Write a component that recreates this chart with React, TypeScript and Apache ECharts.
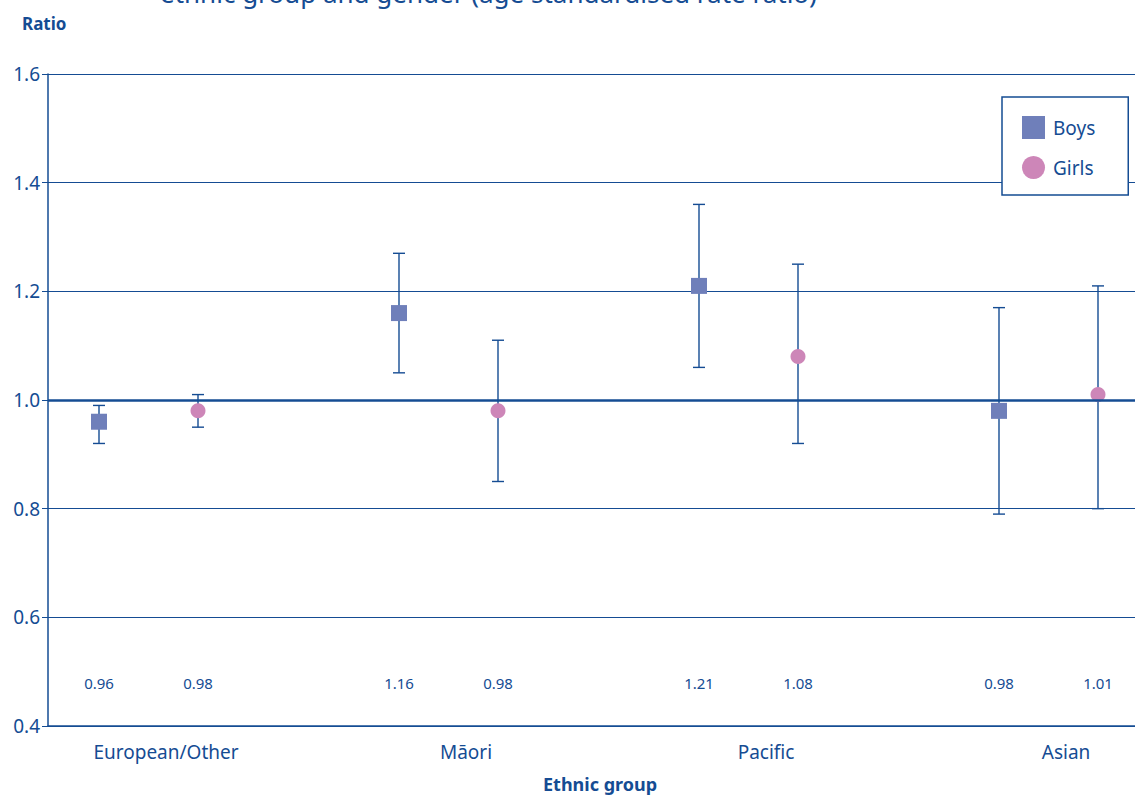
import React, { useEffect, useRef } from "react";
import * as echarts from "echarts";

const categories = ["European/Other", "Māori", "Pacific", "Asian"];
const boysRatio = [0.96, 1.16, 1.21, 0.98];
const boysLower = [0.92, 1.05, 1.06, 0.79];
const boysUpper = [0.99, 1.27, 1.36, 1.17];
const girlsRatio = [0.98, 0.98, 1.08, 1.01];
const girlsLower = [0.95, 0.85, 0.92, 0.8];
const girlsUpper = [1.01, 1.11, 1.25, 1.21];
const yTicks = [0.4, 0.6, 0.8, 1.0, 1.2, 1.4, 1.6];

const BLUE = "#154c93";
const BOYS = "#6f7fba";
const GIRLS = "#cd86b8";
const FONT = "Noto Sans";

// layout in axis units (each group spans 3 units)
const GROUP_W = 3;
const BOY_OFF = 0.51;
const GIRL_OFF = 1.5;
const LABEL_OFF = 1.18;
const VALUE_LABEL_Y = 0.48;

export default function App() {
  const ref = useRef<HTMLDivElement>(null);
  useEffect(() => {
    const chart = echarts.init(ref.current!, null, { renderer: "svg" });
    const bx = (i: number) => i * GROUP_W + BOY_OFF;
    const gx = (i: number) => i * GROUP_W + GIRL_OFF;
    const errData = [
      ...categories.map((_, i) => [bx(i), boysLower[i], boysUpper[i]]),
      ...categories.map((_, i) => [gx(i), girlsLower[i], girlsUpper[i]]),
    ];
    const valueLabels = [
      ...categories.map((_, i) => [bx(i), VALUE_LABEL_Y, boysRatio[i]]),
      ...categories.map((_, i) => [gx(i), VALUE_LABEL_Y, girlsRatio[i]]),
    ];
    chart.setOption({
      animation: false,
      grid: { left: 48, right: 0, top: 74, bottom: 71 },
      xAxis: {
        type: "value",
        min: 0,
        max: 10.87,
        axisLine: { show: true, lineStyle: { color: BLUE, width: 1.5 } },
        axisTick: { show: false },
        axisLabel: { show: false },
        splitLine: { show: false },
      },
      yAxis: {
        type: "value",
        min: yTicks[0],
        max: yTicks[yTicks.length - 1],
        interval: 0.2,
        axisLine: { show: true, lineStyle: { color: BLUE, width: 1.5 } },
        axisTick: { show: true, length: 6, lineStyle: { color: BLUE } },
        axisLabel: {
          color: BLUE,
          fontFamily: FONT,
          fontSize: 19,
          margin: 8,
          formatter: (v: number) => v.toFixed(1),
        },
        splitLine: { show: true, lineStyle: { color: BLUE, width: 1 } },
      },
      legend: {
        orient: "vertical",
        left: 1002,
        top: 97,
        padding: [19, 33, 16, 20],
        itemWidth: 23,
        itemHeight: 23,
        itemGap: 17,
        borderColor: BLUE,
        borderWidth: 1.5,
        backgroundColor: "#fff",
        textStyle: { color: BLUE, fontFamily: FONT, fontSize: 19, padding: [3, 0, 0, 3] },
        data: [
          { name: "Boys", icon: "rect" },
          { name: "Girls", icon: "circle" },
        ],
      },
      graphic: [
        {
          type: "text",
          left: 160,
          top: -20,
          style: {
            text: "ethnic group and gender (age standardised rate ratio)",
            fill: BLUE,
            font: `26px "${FONT}"`,
          },
        },
        {
          type: "text",
          left: 22,
          top: 15,
          style: { text: "Ratio", fill: BLUE, font: `bold 17px "${FONT}"` },
        },
        {
          type: "text",
          left: 543,
          top: 775,
          style: { text: "Ethnic group", fill: BLUE, font: `bold 18px "${FONT}"` },
        },
      ],
      series: [
        {
          name: "CI",
          type: "custom",
          z: 2,
          data: errData,
          renderItem: (params: any, api: any) => {
            const x = api.value(0);
            const lo = api.coord([x, api.value(1)]);
            const hi = api.coord([x, api.value(2)]);
            const hw = 6;
            const style = { stroke: BLUE, lineWidth: 1.4 };
            return {
              type: "group",
              children: [
                { type: "line", shape: { x1: lo[0], y1: lo[1], x2: hi[0], y2: hi[1] }, style },
                { type: "line", shape: { x1: lo[0] - hw, y1: lo[1], x2: lo[0] + hw, y2: lo[1] }, style },
                { type: "line", shape: { x1: hi[0] - hw, y1: hi[1], x2: hi[0] + hw, y2: hi[1] }, style },
              ],
            };
          },
          markLine: {
            silent: true,
            symbol: "none",
            label: { show: false },
            lineStyle: { color: BLUE, width: 2.5, type: "solid" },
            data: [{ yAxis: 1.0 }],
          },
        },
        {
          name: "Boys",
          type: "scatter",
          z: 3,
          symbol: "rect",
          symbolSize: 16,
          itemStyle: { color: BOYS, opacity: 1 },
          data: categories.map((_, i) => [bx(i), boysRatio[i]]),
        },
        {
          name: "Girls",
          type: "scatter",
          z: 3,
          symbol: "circle",
          symbolSize: 15,
          itemStyle: { color: GIRLS, opacity: 1 },
          data: categories.map((_, i) => [gx(i), girlsRatio[i]]),
        },
        {
          name: "values",
          type: "scatter",
          symbolSize: 0,
          silent: true,
          itemStyle: { opacity: 1 },
          data: valueLabels,
          label: {
            show: true,
            position: "inside",
            color: BLUE,
            opacity: 1,
            fontFamily: FONT,
            fontSize: 15,
            formatter: (p: any) => p.value[2].toFixed(2),
          },
        },
        {
          name: "groups",
          type: "scatter",
          symbolSize: 0,
          silent: true,
          itemStyle: { opacity: 1 },
          data: categories.map((c, i) => ({ value: [i * GROUP_W + LABEL_OFF, yTicks[0]], name: c })),
          label: {
            show: true,
            position: "bottom",
            distance: 16,
            color: BLUE,
            opacity: 1,
            fontFamily: FONT,
            fontSize: 19,
            formatter: (p: any) => p.name,
          },
        },
      ],
    });
    return () => chart.dispose();
  }, []);
  return (
    <div
      ref={ref}
      style={{ position: "fixed", left: 0, top: 0, width: 1135, height: 797, background: "#fff" }}
    />
  );
}
